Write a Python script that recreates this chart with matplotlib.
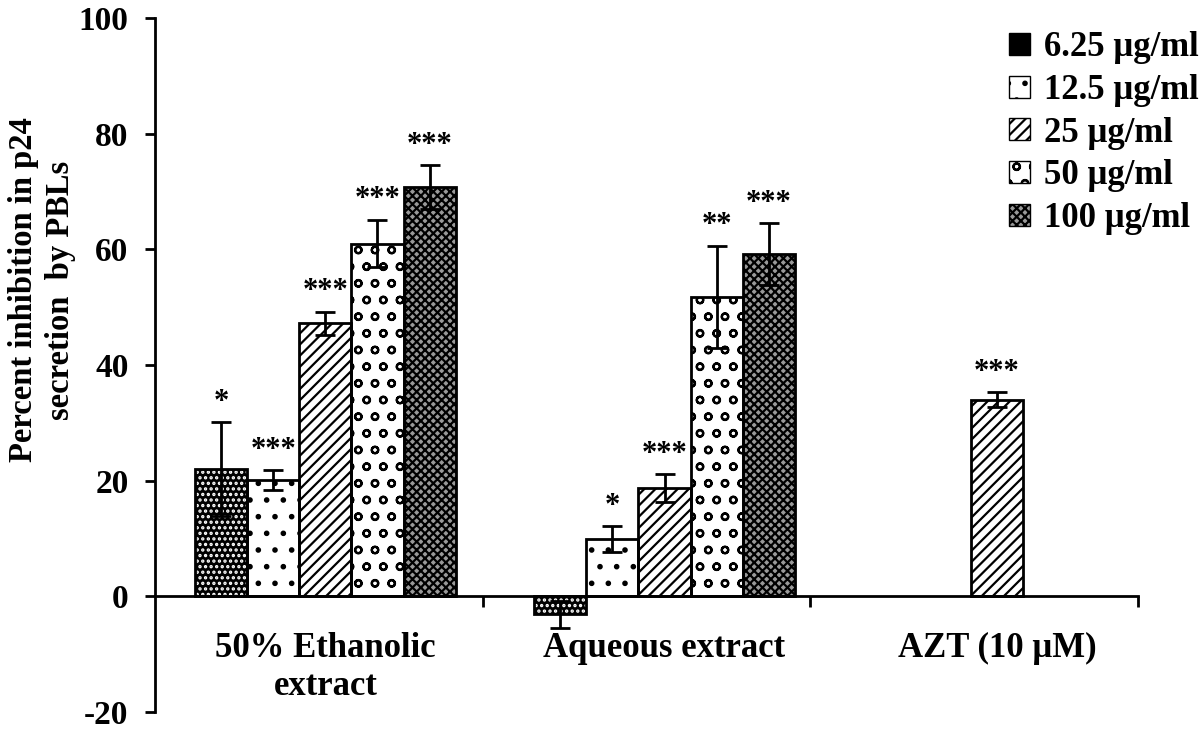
import numpy as np
import matplotlib
matplotlib.use("Agg")
import matplotlib.pyplot as plt
from matplotlib.patches import Patch

plt.rcParams["font.family"] = ["Liberation Serif", "DejaVu Serif"]
plt.rcParams["font.weight"] = "bold"
plt.rcParams["axes.unicode_minus"] = False
plt.rcParams["hatch.linewidth"] = 1.6

# ── data ─────────────────────────────────────────────
groups = ["50% Ethanolic\nextract", "Aqueous extract", "AZT (10 μM)"]
conc_labels = ["6.25 μg/ml", "12.5 μg/ml", "25 μg/ml", "50 μg/ml", "100 μg/ml"]

val_625 = [22.0, -3.1, np.nan]
val_125 = [20.1, 9.9, np.nan]
val_25 = [47.2, 18.7, 34.0]
val_50 = [61.0, 51.8, np.nan]
val_100 = [70.7, 59.2, np.nan]

err_625 = [8.1, 2.3, np.nan]
err_125 = [1.7, 2.2, np.nan]
err_25 = [2.0, 2.4, 1.3]
err_50 = [4.1, 8.8, np.nan]
err_100 = [3.8, 5.3, np.nan]

sig_625 = ["*", "", ""]
sig_125 = ["***", "*", ""]
sig_25 = ["***", "***", "***"]
sig_50 = ["***", "**", ""]
sig_100 = ["***", "***", ""]

values = [val_625, val_125, val_25, val_50, val_100]
errors = [err_625, err_125, err_25, err_50, err_100]
stars = [sig_625, sig_125, sig_25, sig_50, sig_100]

# fill colour, hatch, hatch colour for each concentration
styles = [
    ("black", "...", "white"),
    ("white", ".", "black"),
    ("white", "///", "black"),
    ("white", "o", "black"),
    ("0.6", "xxxx", "black"),
]

# ── figure ───────────────────────────────────────────
fig = plt.figure(figsize=(12, 7.33), dpi=100)
ax = fig.add_axes([155 / 1200, 1 - 712 / 733, (1138 - 155) / 1200, (712 - 18) / 733])

# group centres sit a little right of the category middles
x = np.arange(len(groups)) + np.array([0.02, 0.055, 0.07])
width = 0.159

for i in range(5):
    pos = x + (i - 2) * width
    fc, hatch, hc = styles[i]
    ax.bar(pos, values[i], width, color=fc, edgecolor=hc, linewidth=0,
           hatch=hatch, zorder=2)
    ax.bar(pos, values[i], width, fill=False, edgecolor="black",
           linewidth=2, zorder=3)
    ax.errorbar(pos, values[i], yerr=errors[i], fmt="none", ecolor="black",
                elinewidth=2, capsize=7, capthick=2, zorder=4)
    for p, v, e, s in zip(pos, values[i], errors[i], stars[i]):
        if s:
            top = max(v, 0) + e
            ax.annotate(s, (p, top), xytext=(0, 4), textcoords="offset points",
                        ha="center", va="bottom", fontsize=22, zorder=5)

ax.set_xlim(-0.5, 2.5)
ax.set_ylim(-20, 100)
ax.set_yticks(np.arange(-20, 101, 20))
ax.tick_params(axis="y", labelsize=24, width=2, length=7, pad=12)

# x axis drawn at zero, ticks on category borders
ax.spines["bottom"].set_position(("data", 0))
ax.spines["bottom"].set_linewidth(2)
ax.spines["left"].set_linewidth(2)
ax.spines["top"].set_visible(False)
ax.spines["right"].set_visible(False)
ax.set_xticks([0.5, 1.5, 2.5])
ax.set_xticklabels([])
ax.set_xticks(x, minor=True)
ax.set_xticklabels(groups, minor=True)
ax.tick_params(axis="x", which="major", direction="out", length=8, width=2)
ax.tick_params(axis="x", which="minor", length=0, pad=26, labelsize=25)
for lbl in ax.get_xticklabels(minor=True):
    lbl.set_verticalalignment("top")
    lbl.set_linespacing(1.2)

fig.text(42 / 1200, 1 - 290 / 733, "Percent inhibition in p24\nsecretion  by PBLs",
         rotation=90, ha="center", va="center", fontsize=23.5, linespacing=1.25)

handles = [Patch(facecolor=s[0], edgecolor="black", hatch=s[1]) for s in styles]
leg = fig.legend(handles, conc_labels, loc="upper right",
                 bbox_to_anchor=(1.025, 1.0), frameon=False,
                 fontsize=25, handlelength=0.6, handleheight=0.6,
                 handletextpad=0.4, labelspacing=0.28)

fig.savefig("out.png", dpi=100)
